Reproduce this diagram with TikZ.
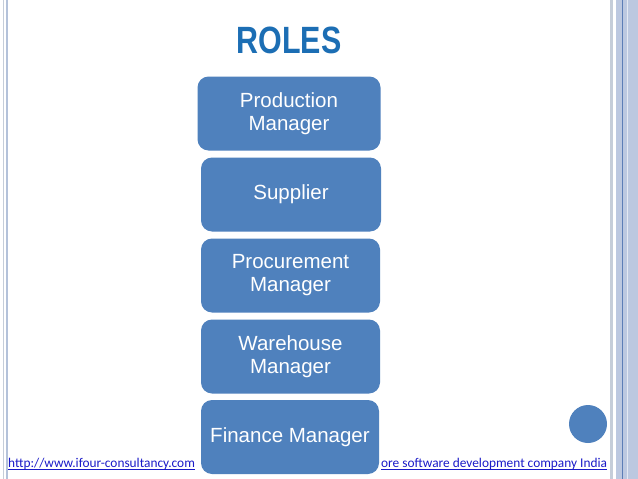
\documentclass[tikz,border=0pt]{standalone}
\usepackage{fontspec}
\setmainfont{Liberation Sans}
\newfontfamily\footfont{Carlito}
\definecolor{boxblue}{HTML}{4F81BD}
\definecolor{titleblue}{HTML}{1C6EB4}
\definecolor{linkblue}{HTML}{1A1AC8}
\definecolor{bordergray}{HTML}{C5CDD9}
\definecolor{borderblue}{HTML}{B4C2DA}
\definecolor{sidefill}{HTML}{BCC8E0}
\definecolor{sideline}{HTML}{5C7DB6}
\tikzset{
  rolebox/.style={draw=none, fill=boxblue, rounded corners=11pt, minimum height=74pt,
    text=white, align=center, font=\fontsize{20.5}{23}\selectfont, inner sep=0pt},
  footlink/.style={text=linkblue, font=\footfont\fontsize{13.35}{15}\selectfont, inner sep=0pt, anchor=base west},
  underl/.style={linkblue, line width=0.7pt}
}
\begin{document}
\begin{tikzpicture}[x=1pt,y=-1pt]
\useasboundingbox (0,0) rectangle (638,479);
\fill[white] (0,0) rectangle (638,479);
% borders
\draw[bordergray, line width=1.5pt] (3.5,0) -- (3.5,479);
\draw[borderblue, line width=2pt] (6.5,0) -- (6.5,479);
\draw[bordergray, line width=3pt] (611.5,0) -- (611.5,479);
\fill[sidefill] (616,0) rectangle (638,479);
\draw[sideline, line width=1pt] (622.5,0) -- (622.5,479);
\draw[white!60!sidefill, line width=0.8pt] (627.5,0) -- (627.5,479);
% footer
\node[footlink] (url) at (8,467) {http://www.ifour-consultancy.com};
\draw[underl] ([yshift=-2pt]url.base west) -- ([yshift=-2pt]url.base east);
\node[footlink] (tag) at (381,467) {ore software development company India};
\draw[underl] ([yshift=-2pt]tag.base west) -- ([yshift=-2pt]tag.base east);
% title
\node[text=titleblue, font=\bfseries\fontsize{38}{40}\selectfont, inner sep=0pt] (title) at (289,40) {\scalebox{0.8}[1]{ROLES}};
% boxes
\node[rolebox, minimum width=183pt] (pm) at (289,113.5) {Production\\Manager};
\node[rolebox, minimum width=180pt] (sup) at (291,194.5) {Supplier};
\node[rolebox, minimum width=179pt] (proc) at (290.5,275.5) {Procurement\\Manager};
\node[rolebox, minimum width=179pt] (wh) at (290.5,356.5) {Warehouse\\Manager};
\node[rolebox, minimum width=178pt] (fin) at (290,437) {Finance Manager};
% circle
\fill[boxblue] (588,424) circle (19);
\end{tikzpicture}
\end{document}
